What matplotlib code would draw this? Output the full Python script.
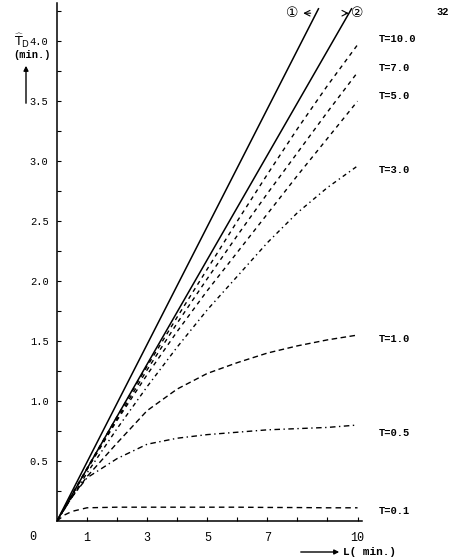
import matplotlib
matplotlib.use("Agg")
import matplotlib.pyplot as plt
import numpy as np

# ---- data ----
L = [0, 1, 2, 3, 4, 5, 6, 7, 8, 9, 10]
td_T10 = [0, 0.44, 0.87, 1.29, 1.70, 2.10, 2.50, 2.89, 3.27, 3.63, 3.97]
td_T7 = [0, 0.43, 0.85, 1.26, 1.65, 2.02, 2.38, 2.73, 3.07, 3.41, 3.74]
td_T5 = [0, 0.43, 0.84, 1.22, 1.58, 1.92, 2.24, 2.56, 2.88, 3.19, 3.50]
td_T3 = [0, 0.40, 0.77, 1.12, 1.45, 1.76, 2.04, 2.32, 2.57, 2.78, 2.96]
L_fine = [0, 0.5, 1, 2, 3, 4, 5, 6, 7, 8, 9, 10]
td_T1 = [0, 0.20, 0.37, 0.65, 0.92, 1.10, 1.23, 1.32, 1.40, 1.46, 1.51, 1.55]
td_T05 = [0, 0.20, 0.36, 0.52, 0.64, 0.69, 0.72, 0.74, 0.76, 0.77, 0.78, 0.80]
L_01 = [0, 0.25, 0.5, 1, 2, 3, 4, 5, 6, 7, 8, 9, 10]
td_T01 = [0, 0.05, 0.08, 0.11, 0.115, 0.115, 0.115, 0.115, 0.115, 0.113, 0.112, 0.11, 0.11]
line1_L = [0, 8.7]
line1_td = [0, 4.27]
line2_L = [0, 9.8]
line2_td = [0, 4.27]
curve_labels = ["T=10.0", "T=7.0", "T=5.0", "T=3.0", "T=1.0", "T=0.5", "T=0.1"]
label_y = [4.02, 3.78, 3.54, 2.93, 1.52, 0.73, 0.08]
xticks = [1, 3, 5, 7, 10]
yticks = [0.5, 1.0, 1.5, 2.0, 2.5, 3.0, 3.5, 4.0]
ytick_labels = ["0.5", "1.0", "1.5", "2.0", "2.5", "3.0", "3.5", "4.0"]

mono = "Liberation Mono"

fig = plt.figure(figsize=(4.52, 5.59), dpi=100)
ax = fig.add_axes([0.126, 0.068, 0.675, 0.927])
ax.set_xlim(0, 10.15)
ax.set_ylim(0, 4.32)

ax.plot(line1_L, line1_td, color="black", lw=1.1)
ax.plot(line2_L, line2_td, color="black", lw=1.1)
ax.plot(L, td_T10, color="black", lw=1.0, dashes=(3, 3))
ax.plot(L, td_T7, color="black", lw=1.0, dashes=(3, 3))
ax.plot(L, td_T5, color="black", lw=1.0, dashes=(3, 3))
ax.plot(L, td_T3, color="black", lw=1.0, dashes=(3, 2.5, 1, 2.5))
ax.plot(L_fine, td_T1, color="black", lw=1.0, dashes=(4, 2.5))
ax.plot(L_fine, td_T05, color="black", lw=1.0, dashes=(4, 2.5, 1, 2.5))
ax.plot(L_01, td_T01, color="black", lw=1.0, dashes=(4, 3))

for lab, y in zip(curve_labels, label_y):
    ax.text(10.72, y, lab, fontsize=7.5, family=mono, fontweight="bold",
            va="center", ha="left", clip_on=False)

for s in ["top", "right"]:
    ax.spines[s].set_visible(False)
ax.spines["left"].set_linewidth(1.1)
ax.spines["bottom"].set_linewidth(1.1)

ax.set_xticks(xticks)
ax.set_xticklabels([str(v) for v in xticks], family=mono, fontsize=8.5)
ax.set_xticks([2, 4, 6, 8, 9], minor=True)
ax.set_yticks(yticks)
ax.set_yticklabels(ytick_labels, family=mono, fontsize=7.5)
ax.set_yticks(np.arange(0.25, 4.3, 0.5), minor=True)
ax.tick_params(axis="both", which="both", direction="in", length=3, width=0.8)
ax.tick_params(axis="x", pad=8)
ax.tick_params(axis="y", pad=6)

# origin label
fig.text(33 / 452, 1 - 537 / 559, "0", family=mono, fontsize=8.5, ha="center", va="center")

# circled line labels with arrows
fig.text(292 / 452, 1 - 13 / 559, "\u2460", family=["DejaVu Sans", "Noto Sans CJK SC"],
         fontsize=10, ha="center", va="center")
ax.annotate("", xy=((300 - 57) / 30.0, (521 - 13) / 120.0),
            xytext=((313 - 57) / 30.0, (521 - 13) / 120.0),
            arrowprops=dict(arrowstyle="->", lw=0.8, color="black"), annotation_clip=False)
fig.text(357 / 452, 1 - 13 / 559, "\u2461", family=["DejaVu Sans", "Noto Sans CJK SC"],
         fontsize=10, ha="center", va="center")
ax.annotate("", xy=((351 - 57) / 30.0, (521 - 13) / 120.0),
            xytext=((342 - 57) / 30.0, (521 - 13) / 120.0),
            arrowprops=dict(arrowstyle="->", lw=0.8, color="black"), annotation_clip=False)

# y axis label with arrow
fig.text(22 / 452, 1 - 41 / 559, r"$\widehat{\mathrm{T}}_{\mathrm{D}}$", fontsize=9,
         ha="center", va="center")
fig.text(32 / 452, 1 - 55 / 559, "(min.)", family=mono, fontsize=7.5, fontweight="bold",
         ha="center", va="center")
fig.add_artist(matplotlib.patches.FancyArrowPatch(
    (26 / 452, 1 - 106 / 559), (26 / 452, 1 - 63 / 559), transform=fig.transFigure,
    arrowstyle="-|>", mutation_scale=7, lw=1.0, color="black"))

# x axis label with arrow
fig.add_artist(matplotlib.patches.FancyArrowPatch(
    (298 / 452, 1 - 552 / 559), (342 / 452, 1 - 552 / 559), transform=fig.transFigure,
    arrowstyle="-|>", mutation_scale=7, lw=1.0, color="black"))
fig.text(343 / 452, 1 - 552 / 559, "L( min.)", family=mono, fontsize=8, fontweight="bold",
         ha="left", va="center")

# page number
fig.text(443 / 452, 1 - 12 / 559, "32", family=mono, fontsize=7.5, fontweight="bold",
         ha="center", va="center")

fig.savefig("out.png", dpi=100)
